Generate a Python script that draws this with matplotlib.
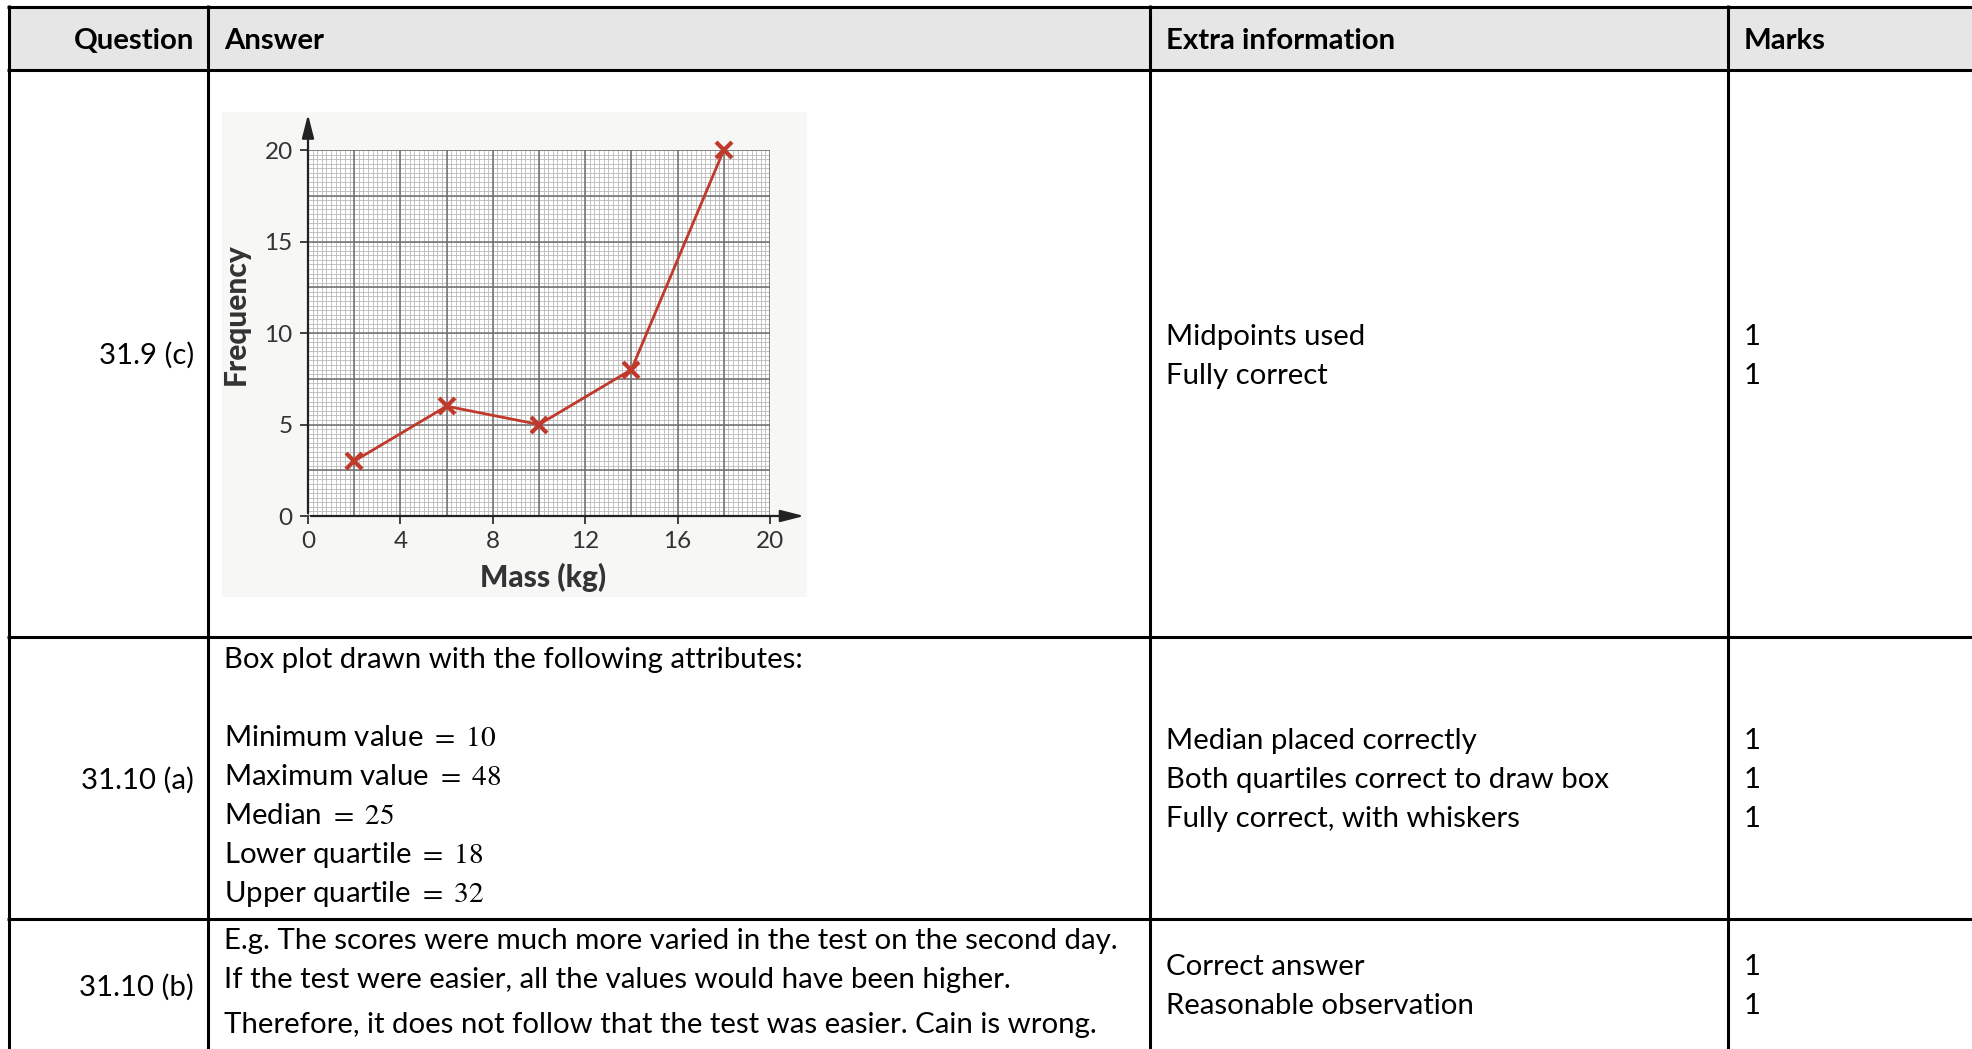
import numpy as np
import matplotlib
matplotlib.use("Agg")
import matplotlib.pyplot as plt
from matplotlib.patches import Rectangle

plt.rcParams['mathtext.fontset'] = 'stix'
plt.rcParams['font.family'] = ['Lato', 'DejaVu Sans']

# frequency polygon data
mass_midpoints = [2, 6, 10, 14, 18]
frequency = [3, 6, 5, 8, 20]
x_ticks = [0, 4, 8, 12, 16, 20]
y_ticks = [0, 5, 10, 15, 20]

# table content
headers = ['Question', 'Answer', 'Extra information', 'Marks']
questions = ['31.9 (c)', '31.10 (a)', '31.10 (b)']
extra_info = [
    ['Midpoints used', 'Fully correct'],
    ['Median placed correctly', 'Both quartiles correct to draw box', 'Fully correct, with whiskers'],
    ['Correct answer', 'Reasonable observation'],
]
marks = [[1, 1], [1, 1, 1], [1, 1]]
box_intro = 'Box plot drawn with the following attributes:'
box_labels = ['Minimum value', 'Maximum value', 'Median', 'Lower quartile', 'Upper quartile']
box_values = [10, 48, 25, 18, 32]
answer_b = [
    'E.g. The scores were much more varied in the test on the second day.',
    'If the test were easier, all the values would have been higher.',
    'Therefore, it does not follow that the test was easier. Cain is wrong.',
]

W, H = 1972, 1049
fig = plt.figure(figsize=(W / 100, H / 100), dpi=100)
bg = fig.add_axes([0, 0, 1, 1])
bg.set_xlim(0, W)
bg.set_ylim(H, 0)
bg.axis('off')

FS = 21.2
LW = 2.2

# header band + grid lines of the table
bg.add_patch(Rectangle((8, 6), W, 63, fc='#e7e6e6', ec='none'))
for y in [6.5, 69.5, 637, 919]:
    bg.plot([7, W], [y, y], color='black', lw=LW, solid_capstyle='butt')
for x in [8.5, 208, 1150, 1728]:
    bg.plot([x, x], [5, H], color='black', lw=LW, solid_capstyle='butt')

# header text
bg.text(194, 41, headers[0], ha='right', va='center', fontsize=FS, fontweight='bold')
for x, h in zip([224, 1166, 1744], headers[1:]):
    bg.text(x, 41, h, ha='left', va='center', fontsize=FS, fontweight='bold')

# question column
for y, q in zip([355, 780, 987], questions):
    bg.text(194, y, q, ha='right', va='center', fontsize=FS)

# extra info + marks
extra_y = [[337, 376], [741, 780, 819], [967, 1006]]
for ys, lines, mk in zip(extra_y, extra_info, marks):
    for y, line, m in zip(ys, lines, mk):
        bg.text(1166, y, line, ha='left', va='center', fontsize=FS)
        bg.text(1744, y, str(m), ha='left', va='center', fontsize=FS)

# answer column row 2 (values set in a serif maths font, like the original)
bg.text(224, 660, box_intro, ha='left', va='center', fontsize=FS)
for y, lab, val in zip([738, 777, 816, 855, 894], box_labels, box_values):
    bg.text(224, y, lab + r' $\mathrm{=\ %d}$' % val, ha='left', va='center', fontsize=FS)

# answer column row 3
for y, line in zip([941, 980, 1025], answer_b):
    bg.text(224, y, line, ha='left', va='center', fontsize=FS)

# chart backdrop
bg.add_patch(Rectangle((222, 112), 585, 485, fc='#f7f7f6', ec='none'))

ax = fig.add_axes([308 / W, 1 - 516 / H, 462 / W, 366 / H])
ax.set_xlim(0, 20)
ax.set_ylim(0, 20)
ax.set_facecolor('white')
ax.vlines(np.arange(0, 20.01, 0.2), 0, 20, color='#b9b9b9', lw=0.6, zorder=1)
ax.hlines(np.arange(0, 20.01, 0.25), 0, 20, color='#b9b9b9', lw=0.6, zorder=1)
ax.vlines(np.arange(0, 20.01, 2), 0, 20, color='#6e6e6e', lw=1.1, zorder=2)
ax.hlines(np.arange(0, 20.01, 2.5), 0, 20, color='#6e6e6e', lw=1.1, zorder=2)
for s in ax.spines.values():
    s.set_visible(False)

arrow = dict(arrowstyle='-|>,head_length=1.1,head_width=0.28', color='#222222',
             lw=1.6, mutation_scale=13)
ax.annotate('', xy=(0, 22.1), xytext=(0, 0), annotation_clip=False, arrowprops=arrow)
ax.annotate('', xy=(21.6, 0), xytext=(0, 0), annotation_clip=False, arrowprops=arrow)

ax.plot(mass_midpoints, frequency, color='#c0392b', lw=2.0, marker='x', ms=11, mew=3.0,
        clip_on=False, zorder=6)

ax.set_xticks(x_ticks)
ax.set_yticks(y_ticks)
ax.tick_params(direction='out', length=6, width=1.2, color='#222222', labelcolor='#333333',
               labelsize=17.5, pad=5)

bg.text(543, 577, 'Mass (kg)', ha='center', va='center', fontsize=21.5, fontweight='black',
        color='#333333')
bg.text(236, 314, 'Frequency', ha='center', va='center', fontsize=21.5, fontweight='black',
        color='#333333', rotation=90)

fig.savefig('out.png', dpi=100)
